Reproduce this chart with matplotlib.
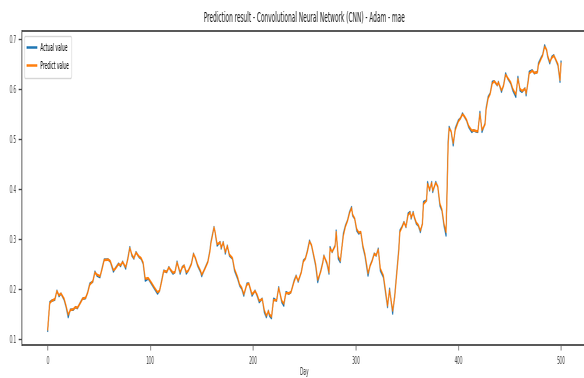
import matplotlib
matplotlib.use("Agg")
import matplotlib.pyplot as plt
from PIL import Image

# Day index and normalised values of the series
days = [0, 2, 4, 7, 9, 11, 13, 16, 18, 20, 22, 25, 27, 29, 32, 34, 37, 39, 41, 44,
        46, 48, 51, 53, 55, 59, 61, 64, 66, 69, 71, 73, 76, 78, 80, 82, 84, 86, 89, 91,
        93, 95, 98, 101, 104, 107, 109, 111, 113, 116, 118, 120, 122, 124, 126, 129, 131, 133, 135, 137,
        140, 142, 144, 146, 149, 150, 153, 156, 158, 159, 161, 162, 163, 165, 168, 169, 171, 173, 175, 177,
        180, 182, 185, 187, 189, 191, 194, 196, 199, 202, 204, 206, 209, 211, 213, 215, 216, 218, 220, 223,
        225, 228, 230, 232, 235, 237, 240, 242, 244, 247, 249, 251, 253, 255, 257, 259, 261, 263, 266, 268,
        269, 272, 274, 275, 277, 280, 281, 283, 285, 288, 290, 292, 294, 296, 297, 299, 301, 303, 305, 307,
        309, 312, 314, 316, 318, 320, 322, 324, 327, 329, 331, 333, 336, 338, 340, 342, 343, 345, 347, 349,
        351, 353, 354, 356, 357, 359, 361, 363, 365, 366, 369, 370, 372, 374, 375, 378, 380, 382, 384, 386,
        388, 389, 390, 391, 393, 395, 397, 400, 402, 404, 406, 408, 410, 413, 415, 417, 419, 421, 423, 426,
        427, 429, 431, 433, 435, 438, 439, 442, 444, 446, 448, 451, 453, 456, 458, 460, 462, 465, 466, 468,
        469, 472, 474, 477, 478, 481, 482, 484, 486, 487, 489, 491, 493, 495, 497, 499, 500]

actual = [0.117, 0.174, 0.177, 0.179, 0.197, 0.186, 0.191, 0.179, 0.164, 0.144, 0.159, 0.159, 0.164, 0.162, 0.174, 0.181, 0.182, 0.194, 0.211, 0.215,
          0.235, 0.227, 0.224, 0.242, 0.259, 0.259, 0.255, 0.235, 0.242, 0.251, 0.246, 0.255, 0.241, 0.261, 0.284, 0.267, 0.261, 0.274, 0.264, 0.261,
          0.251, 0.217, 0.221, 0.211, 0.201, 0.191, 0.197, 0.217, 0.237, 0.234, 0.244, 0.237, 0.231, 0.234, 0.255, 0.231, 0.244, 0.247, 0.231, 0.237,
          0.251, 0.271, 0.261, 0.247, 0.234, 0.226, 0.241, 0.255, 0.277, 0.294, 0.314, 0.324, 0.314, 0.287, 0.294, 0.281, 0.294, 0.271, 0.287, 0.267,
          0.261, 0.237, 0.221, 0.207, 0.201, 0.187, 0.211, 0.211, 0.187, 0.197, 0.187, 0.174, 0.181, 0.154, 0.144, 0.157, 0.147, 0.142, 0.181, 0.177,
          0.204, 0.174, 0.167, 0.194, 0.191, 0.194, 0.217, 0.227, 0.215, 0.234, 0.257, 0.261, 0.277, 0.297, 0.287, 0.267, 0.247, 0.214, 0.237, 0.254,
          0.267, 0.251, 0.231, 0.284, 0.274, 0.287, 0.317, 0.261, 0.254, 0.311, 0.327, 0.337, 0.354, 0.364, 0.347, 0.341, 0.317, 0.311, 0.314, 0.284,
          0.267, 0.227, 0.247, 0.257, 0.271, 0.267, 0.281, 0.237, 0.224, 0.194, 0.164, 0.201, 0.151, 0.187, 0.234, 0.281, 0.317, 0.324, 0.334, 0.324,
          0.351, 0.354, 0.341, 0.354, 0.344, 0.331, 0.327, 0.314, 0.331, 0.374, 0.377, 0.414, 0.397, 0.414, 0.394, 0.414, 0.404, 0.367, 0.357, 0.327,
          0.307, 0.401, 0.494, 0.524, 0.514, 0.487, 0.521, 0.537, 0.541, 0.551, 0.544, 0.537, 0.524, 0.514, 0.517, 0.515, 0.514, 0.554, 0.514, 0.531,
          0.561, 0.584, 0.591, 0.614, 0.615, 0.607, 0.614, 0.594, 0.607, 0.631, 0.621, 0.611, 0.597, 0.584, 0.624, 0.597, 0.594, 0.601, 0.587, 0.617,
          0.634, 0.637, 0.631, 0.634, 0.651, 0.664, 0.667, 0.687, 0.677, 0.664, 0.651, 0.664, 0.667, 0.657, 0.647, 0.614, 0.654]

predict = [0.120, 0.172, 0.177, 0.180, 0.196, 0.188, 0.191, 0.181, 0.166, 0.149, 0.158, 0.160, 0.164, 0.163, 0.173, 0.181, 0.183, 0.193, 0.209, 0.216,
           0.233, 0.229, 0.226, 0.240, 0.258, 0.259, 0.256, 0.238, 0.241, 0.250, 0.248, 0.254, 0.244, 0.259, 0.282, 0.269, 0.262, 0.273, 0.265, 0.262,
           0.253, 0.221, 0.222, 0.213, 0.203, 0.194, 0.197, 0.215, 0.236, 0.235, 0.243, 0.238, 0.233, 0.234, 0.253, 0.234, 0.243, 0.247, 0.234, 0.237,
           0.250, 0.270, 0.262, 0.249, 0.236, 0.229, 0.240, 0.254, 0.275, 0.292, 0.312, 0.323, 0.315, 0.290, 0.293, 0.283, 0.293, 0.274, 0.286, 0.269,
           0.262, 0.240, 0.224, 0.209, 0.203, 0.190, 0.209, 0.211, 0.190, 0.196, 0.189, 0.177, 0.180, 0.158, 0.147, 0.156, 0.150, 0.145, 0.178, 0.178,
           0.202, 0.177, 0.171, 0.192, 0.192, 0.194, 0.215, 0.226, 0.217, 0.233, 0.255, 0.261, 0.275, 0.295, 0.288, 0.269, 0.250, 0.219, 0.235, 0.253,
           0.266, 0.253, 0.234, 0.281, 0.275, 0.286, 0.314, 0.266, 0.257, 0.307, 0.325, 0.336, 0.352, 0.362, 0.349, 0.341, 0.320, 0.313, 0.314, 0.287,
           0.270, 0.232, 0.246, 0.256, 0.270, 0.268, 0.279, 0.241, 0.227, 0.198, 0.167, 0.198, 0.157, 0.184, 0.230, 0.277, 0.314, 0.323, 0.333, 0.325,
           0.348, 0.353, 0.343, 0.352, 0.345, 0.333, 0.328, 0.317, 0.330, 0.370, 0.377, 0.410, 0.399, 0.412, 0.397, 0.412, 0.405, 0.371, 0.359, 0.331,
           0.314, 0.392, 0.486, 0.521, 0.515, 0.492, 0.518, 0.535, 0.541, 0.549, 0.545, 0.538, 0.526, 0.517, 0.517, 0.516, 0.515, 0.550, 0.518, 0.529,
           0.558, 0.581, 0.590, 0.611, 0.615, 0.608, 0.613, 0.597, 0.606, 0.628, 0.622, 0.613, 0.600, 0.589, 0.620, 0.600, 0.596, 0.600, 0.591, 0.614,
           0.631, 0.636, 0.632, 0.633, 0.648, 0.662, 0.666, 0.684, 0.678, 0.666, 0.654, 0.662, 0.666, 0.658, 0.649, 0.618, 0.650]

title_text = "Prediction result - Convolutional Neural Network (CNN) - Adam - mae"
xticks = [0, 100, 200, 300, 400, 500]
yticks = [0.1, 0.2, 0.3, 0.4, 0.5, 0.6, 0.7]

# The chart is drawn on a wide canvas and then compressed horizontally
# to the final 584x378 size.
OUT_W, OUT_H = 584, 378
squeeze = 0.42
wide_w = OUT_W / squeeze

plt.rcParams["font.family"] = ["DejaVu Sans"]
fig = plt.figure(figsize=(wide_w / 100, OUT_H / 100), dpi=100)
ax = fig.add_axes([22 / OUT_W, 1 - 345 / OUT_H, (586.5 - 22) / OUT_W, (345 - 31) / OUT_H])

ax.plot(days, actual, color="#1f77b4", lw=1.8, label="Actual value")
ax.plot(days, predict, color="#ff7f0e", lw=1.8, label="Predict value")

ax.set_xticks(xticks)
ax.set_yticks(yticks)
ax.set_xticklabels([str(t) for t in xticks])
ax.set_yticklabels([f"{t:.1f}" for t in yticks])
ax.tick_params(axis="both", labelsize=7.5, colors="#444444", width=1.0)
ax.tick_params(axis="x", length=3.5, pad=4.5)
ax.tick_params(axis="y", length=6, pad=4)
for sp in ax.spines.values():
    sp.set_color("#555555")
    sp.set_linewidth(1.4)

ax.set_title(title_text, fontsize=10, color="#222222", pad=7)
ax.set_xlabel("Day", fontsize=7.5, color="#333333", labelpad=0.5)
ax.legend(loc="upper left", fontsize=7.5, frameon=True, handlelength=2.2,
          borderpad=0.65, labelspacing=0.75)

fig.savefig("out.png", dpi=100)

img = Image.open("out.png")
img = img.resize((OUT_W, OUT_H), Image.LANCZOS)
img.save("out.png")
